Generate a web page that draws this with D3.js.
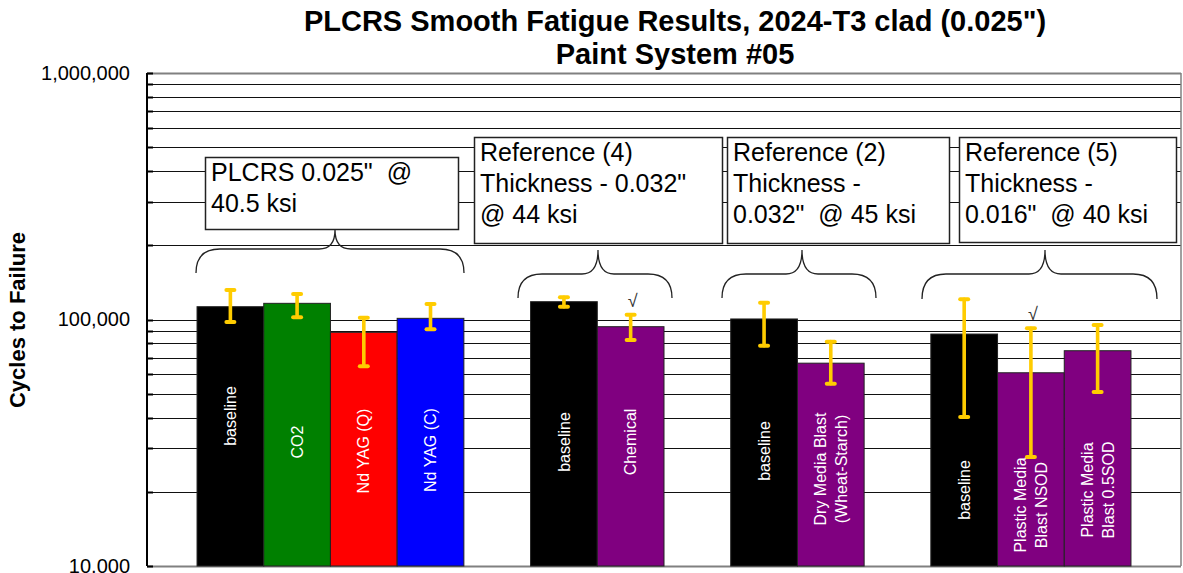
<!DOCTYPE html>
<html lang="en">
<head>
<meta charset="utf-8">
<title>PLCRS Smooth Fatigue Results</title>
<script src="https://cdn.jsdelivr.net/npm/d3@7"></script>
<style>
  body { margin: 0; background: #fff; }
  svg { display: block; font-family: "Liberation Sans", Arial, sans-serif; }
</style>
</head>
<body>
<div id="chart"></div>
<script>
// bars, left to right
var labels = ["baseline", "CO2", "Nd YAG (Q)", "Nd YAG (C)",
              "baseline", "Chemical",
              "baseline", "Dry Media Blast|(Wheat-Starch)",
              "baseline", "Plastic Media|Blast NSOD", "Plastic Media|Blast 0.5SOD"];
var groupOf = [0, 0, 0, 0, 1, 1, 2, 2, 3, 3, 3];
var cycles  = [112700, 116300, 88700, 101100, 118100, 93500, 100500, 66500, 87300, 60800, 74700];
var errHigh = [131700, 126900, 101700, 115600, 123000, 104600, 117000, 81300, 120800, 92100, 95000];
var errLow  = [97700, 102100, 64600, 91300, 112700, 82600, 78300, 54900, 40200, 27700, 50800];
var checked = [false, false, false, false, false, true, false, false, false, true, false];

var noteLines = [
    ["PLCRS 0.025\"  @", "40.5 ksi"],
    ["Reference (4)", "Thickness - 0.032\"", "@ 44 ksi"],
    ["Reference (2)", "Thickness -", "0.032\"  @ 45 ksi"],
    ["Reference (5)", "Thickness -", "0.016\"  @ 40 ksi"]
];
var majorTicks = [10000, 100000, 1000000];

// styles / layout
var barColors = ["#000000", "#008000", "#ff0000", "#0000ff", "#000000", "#800080",
                 "#000000", "#800080", "#000000", "#800080", "#800080"];
var labelMid = [416, 442, 451, 450, 442, 442, 451, 469, 490, 505, 490];
var noteBox = [[205, 157, 253, 72], [474, 137, 248, 106], [727, 137, 222, 106], [959, 137, 217, 105]];
// brace: x0, x1, cusp x, cusp y, line y, end y
var braces = [[196, 464, 335, 230, 249, 273], [518, 672, 598, 250, 274, 298],
              [722, 876, 802, 250, 274, 298], [922, 1157, 1045, 250, 274, 299]];

var W = 1183, H = 573;
var margin = {top: 73, right: 2, bottom: 7, left: 147};

var svg = d3.select("#chart").append("svg").attr("width", W).attr("height", H);

// slots: bars plus one empty slot between the groups
var slots = [], s = 0;
for (var i = 0; i < labels.length; i++) {
    if (i > 0 && groupOf[i] !== groupOf[i - 1]) s++;
    slots.push(s++);
}
var x = d3.scaleBand().domain(d3.range(s)).range([margin.left, W - margin.right])
    .paddingInner(0).paddingOuter(0.75);
var y = d3.scaleLog().domain([10000, 1000000]).range([H - margin.bottom, margin.top]);

var x0 = margin.left, x1 = W - margin.right;

// grid
svg.append("g").selectAll("line").data(y.ticks()).enter().append("line")
    .attr("x1", x0).attr("x2", x1)
    .attr("y1", function (d) { return Math.round(y(d)) + 0.5; })
    .attr("y2", function (d) { return Math.round(y(d)) + 0.5; })
    .style("stroke", function (d) { return d === 1000000 || d === 10000 ? "#808080" : "#111"; })
    .style("stroke-width", function (d) { return d === 1000000 || d === 10000 ? 2 : 1; });
svg.append("line").attr("x1", x1).attr("x2", x1).attr("y1", y(1000000)).attr("y2", y(10000))
    .style("stroke", "#808080").style("stroke-width", 1.5);

// annotation boxes
noteLines.forEach(function (lines, k) {
    var b = noteBox[k];
    svg.append("rect").attr("x", b[0] + 0.5).attr("y", b[1] + 0.5).attr("width", b[2]).attr("height", b[3])
        .style("fill", "#fff").style("stroke", "#222").style("stroke-width", 1.5);
    var t = svg.append("text").attr("x", b[0] + 6).attr("y", b[1] + 24)
        .style("font-size", "25px").style("white-space", "pre").style("fill", "#000");
    lines.forEach(function (l, j) {
        t.append("tspan").attr("x", b[0] + 6).attr("dy", j ? 31 : 0).text(l);
    });
});

// braces
braces.forEach(function (b) {
    var r = 24, r2 = 16;
    var p = "M" + b[0] + "," + b[5] +
        " Q" + b[0] + "," + b[4] + " " + (b[0] + r) + "," + b[4] +
        " L" + (b[2] - r2) + "," + b[4] +
        " Q" + b[2] + "," + b[4] + " " + b[2] + "," + b[3] +
        " Q" + b[2] + "," + b[4] + " " + (b[2] + r2) + "," + b[4] +
        " L" + (b[1] - r) + "," + b[4] +
        " Q" + b[1] + "," + b[4] + " " + b[1] + "," + b[5];
    svg.append("path").attr("d", p).style("fill", "none").style("stroke", "#222").style("stroke-width", 1.3);
});

// bars
var idx = d3.range(labels.length);
svg.append("g").selectAll("rect").data(idx).enter().append("rect")
    .attr("x", function (i) { return x(slots[i]); })
    .attr("y", function (i) { return y(cycles[i]); })
    .attr("width", x.bandwidth())
    .attr("height", function (i) { return y(10000) - y(cycles[i]); })
    .style("fill", function (i) { return barColors[i]; })
    .style("stroke", "#222").style("stroke-width", 1);

// bar labels
idx.forEach(function (i) {
    var cx = x(slots[i]) + x.bandwidth() / 2, cy = labelMid[i];
    var parts = labels[i].split("|");
    var t = svg.append("text").attr("transform", "translate(" + cx + "," + cy + ") rotate(-90)")
        .attr("text-anchor", "middle").style("font-size", "16px").style("fill", "#fff");
    parts.forEach(function (p, j) {
        t.append("tspan").attr("x", 0)
            .attr("y", (j - (parts.length - 1) / 2) * 21)
            .attr("dy", "0.35em").text(p);
    });
});

// error bars
var eb = svg.append("g").style("stroke", "#ffcc00").style("stroke-linecap", "round");
idx.forEach(function (i) {
    var cx = x(slots[i]) + x.bandwidth() / 2;
    eb.append("line").attr("x1", cx).attr("x2", cx).attr("y1", y(errLow[i])).attr("y2", y(errHigh[i]))
        .style("stroke-width", 3.6);
    [errLow[i], errHigh[i]].forEach(function (v) {
        eb.append("line").attr("x1", cx - 4).attr("x2", cx + 4).attr("y1", y(v)).attr("y2", y(v))
            .style("stroke-width", 4);
    });
});

// check marks
svg.append("g").selectAll("text").data(idx.filter(function (i) { return checked[i]; })).enter()
    .append("text")
    .attr("x", function (i) { return x(slots[i]) + x.bandwidth() / 2 + 2; })
    .attr("y", function (i) { return y(errHigh[i]) - 8; })
    .attr("text-anchor", "middle").style("font-size", "18px").style("fill", "#333").text("\u221a");

// y axis
var yAxis = svg.append("g").attr("transform", "translate(" + x0 + ",0)")
    .call(d3.axisLeft(y).tickValues(majorTicks).tickSize(0).tickPadding(17)
        .tickFormat(d3.format(",")));
yAxis.select(".domain").remove();
yAxis.selectAll("text").style("font-size", "20px").style("font-family", "Liberation Sans, Arial, sans-serif")
    .style("fill", "#000");
svg.append("g").selectAll("line").data(y.ticks()).enter().append("line")
    .attr("x1", x0).attr("x2", x0 + 6)
    .attr("y1", function (d) { return Math.round(y(d)) + 0.5; })
    .attr("y2", function (d) { return Math.round(y(d)) + 0.5; })
    .style("stroke", "#000").style("stroke-width", 2);
svg.append("line").attr("x1", x0).attr("x2", x0).attr("y1", y(1000000)).attr("y2", y(10000))
    .style("stroke", "#000").style("stroke-width", 2);

svg.append("text").attr("transform", "translate(25,320) rotate(-90)")
    .attr("text-anchor", "middle").style("font-size", "22px").style("font-weight", "bold")
    .text("Cycles to Failure");

// title
var title = svg.append("text").attr("x", 675).attr("text-anchor", "middle")
    .style("font-size", "29px").style("font-weight", "bold");
title.append("tspan").attr("x", 675).attr("y", 31).text("PLCRS Smooth Fatigue Results, 2024-T3 clad (0.025\")");
title.append("tspan").attr("x", 675).attr("y", 64).text("Paint System #05");
</script>
</body>
</html>
